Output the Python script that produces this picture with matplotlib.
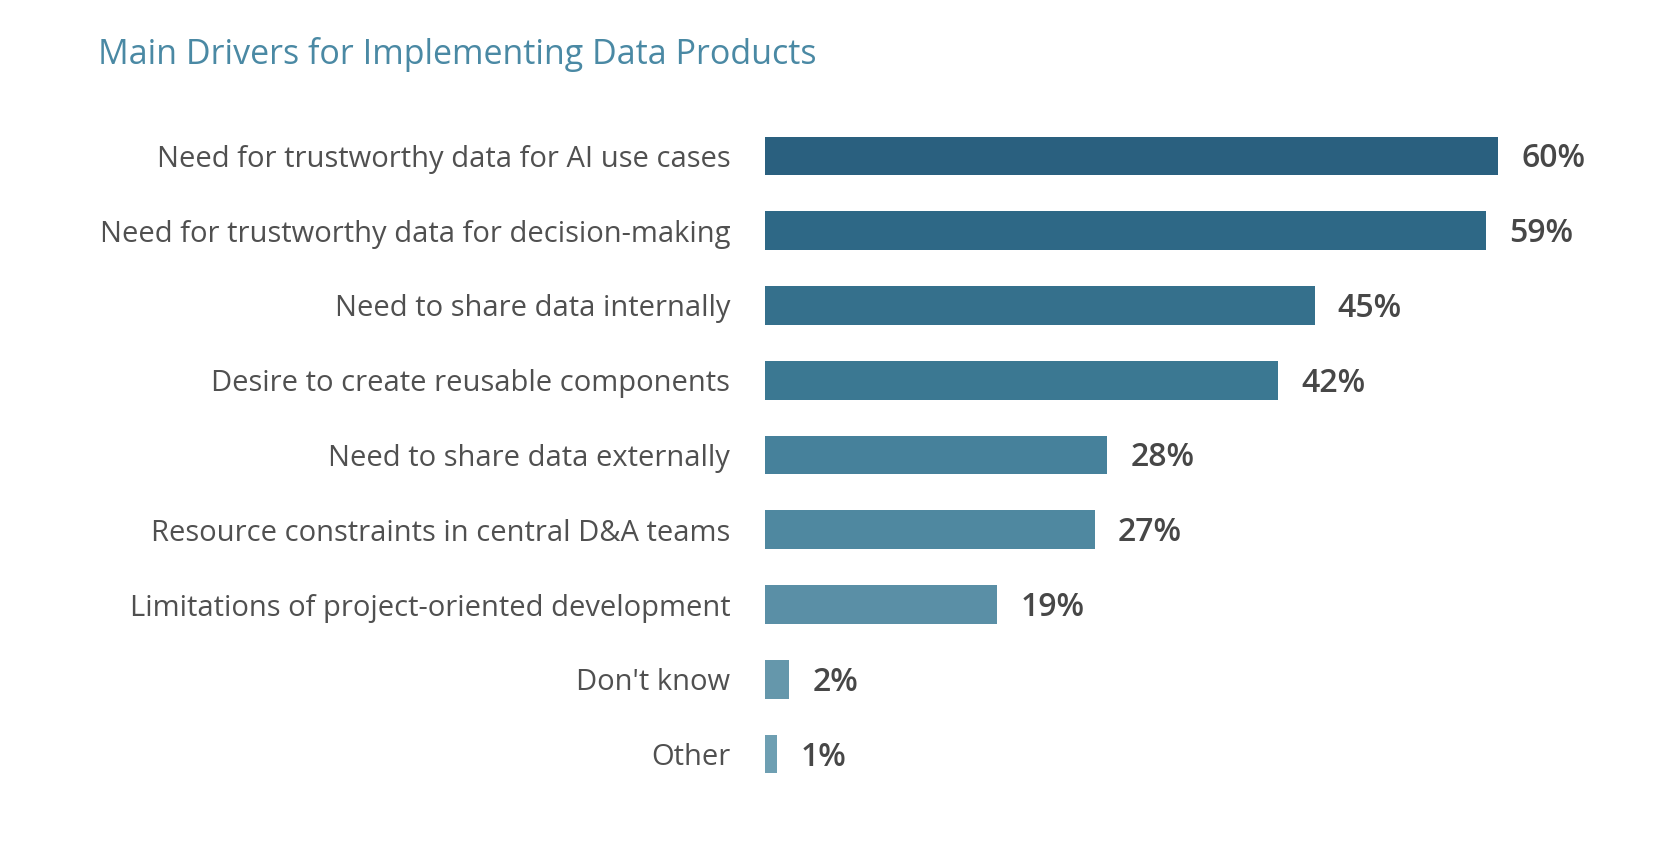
import matplotlib.pyplot as plt

categories = [
    "Need for trustworthy data for AI use cases",
    "Need for trustworthy data for decision-making",
    "Need to share data internally",
    "Desire to create reusable components",
    "Need to share data externally",
    "Resource constraints in central D&A teams",
    "Limitations of project-oriented development",
    "Don't know",
    "Other",
]
values = [60, 59, 45, 42, 28, 27, 19, 2, 1]
colors = ["#2A607F", "#2E6886", "#35708C", "#3B7892", "#46819B",
          "#4F88A0", "#5A8FA6", "#6597AB", "#6E9FB2"]

plt.rcParams['font.family'] = ['Open Sans', 'DejaVu Sans']

fig = plt.figure(figsize=(16.64, 8.5), dpi=100)
ax = fig.add_axes([765 / 1664, 1 - 791.4 / 850, 855 / 1664, 672.8 / 850])

pos = list(range(len(categories)))
ax.barh(pos, values, height=0.52, color=colors)
ax.set_xlim(0, 70)
ax.set_ylim(len(categories) - 0.5, -0.5)

for p, v in zip(pos, values):
    ax.text(v + 1.9, p + 0.04, f"{v}%", va='center', ha='left',
            fontsize=23, fontweight='semibold', color='#474747')

ax.set_yticks(pos)
ax.set_yticklabels(categories, fontsize=21, color='#505050')
ax.tick_params(axis='y', length=0, pad=25)
ax.set_xticks([])
for s in ax.spines.values():
    s.set_visible(False)

fig.text(98 / 1664, 1 - 55 / 850, "Main Drivers for Implementing Data Products",
         fontsize=24.5, color='#4A89A4', va='center', ha='left')

fig.savefig('out.png', dpi=100)
